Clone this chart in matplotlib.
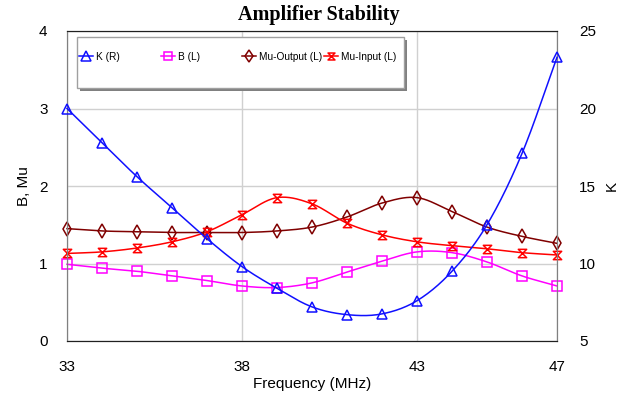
import numpy as np
import matplotlib
matplotlib.use("Agg")
import matplotlib.pyplot as plt
from matplotlib.path import Path
from matplotlib.lines import Line2D
from matplotlib.patches import Rectangle

freq = [33, 34, 35, 36, 37, 38, 39, 40, 41, 42, 43, 44, 45, 46, 47]
k_vals = [20.0, 17.8, 15.6, 13.6, 11.6, 9.8, 8.4, 7.2, 6.7, 6.75, 7.6, 9.5, 12.5, 17.1, 23.3]
b_vals = [0.99, 0.94, 0.90, 0.84, 0.78, 0.71, 0.69, 0.75, 0.89, 1.03, 1.15, 1.14, 1.02, 0.84, 0.71]
mu_out = [1.45, 1.42, 1.41, 1.40, 1.40, 1.40, 1.42, 1.47, 1.60, 1.78, 1.85, 1.67, 1.47, 1.35, 1.26]
mu_in = [1.13, 1.15, 1.20, 1.28, 1.41, 1.63, 1.85, 1.77, 1.52, 1.37, 1.28, 1.23, 1.19, 1.14, 1.11]
labels = ["K (R)", "B (L)", "Mu-Output (L)", "Mu-Input (L)"]
x_ticks = [33, 38, 43, 47]
left_ticks = [0, 1, 2, 3, 4]
right_ticks = [5, 10, 15, 20, 25]

plt.rcParams['font.family'] = ['Liberation Sans', 'DejaVu Sans']

hourglass = Path([(-1, 1), (1, 1), (-1, -1), (1, -1), (-1, 1)],
                 [Path.MOVETO, Path.LINETO, Path.LINETO, Path.LINETO, Path.CLOSEPOLY])


def smooth(x, y, n=20):
    # Catmull-Rom rendering of the line through the data points
    x = np.asarray(x, float); y = np.asarray(y, float)
    px = np.concatenate([[2 * x[0] - x[1]], x, [2 * x[-1] - x[-2]]])
    py = np.concatenate([[2 * y[0] - y[1]], y, [2 * y[-1] - y[-2]]])
    xs, ys = [], []
    t = np.linspace(0, 1, n, endpoint=False)
    for i in range(1, len(px) - 2):
        for p, out in ((px, xs), (py, ys)):
            p0, p1, p2, p3 = p[i - 1], p[i], p[i + 1], p[i + 2]
            out.extend(0.5 * ((2 * p1) + (-p0 + p2) * t + (2 * p0 - 5 * p1 + 4 * p2 - p3) * t ** 2
                              + (-p0 + 3 * p1 - 3 * p2 + p3) * t ** 3))
    xs.append(x[-1]); ys.append(y[-1])
    return np.array(xs), np.array(ys)


fig = plt.figure(figsize=(6.37, 3.96), dpi=100)
ax = fig.add_axes([67 / 637, 1 - 341 / 396, 490 / 637, 310 / 396])
ax2 = ax.twinx()

ax.set_xlim(33, 47)
ax.set_ylim(0, 4)
ax2.set_ylim(5, 25)
ax.set_xticks(x_ticks)
ax.set_yticks(left_ticks)
ax2.set_yticks(right_ticks)
ax.grid(True, color='#d0d0d0', linewidth=1)
ax.set_axisbelow(True)

series = [
    (ax2, k_vals, '#1010ff', '^', 7.5),
    (ax, b_vals, '#ff00ff', 's', 7),
    (ax, mu_out, '#800000', 'd', 7),
    (ax, mu_in, '#ff0000', hourglass, 6),
]
handles = []
for (a, vals, col, mk, ms), lab in zip(series, labels):
    sx, sy = smooth(freq, vals)
    a.plot(sx, sy, color=col, linewidth=1.1, clip_on=False, zorder=3)
    a.plot(freq, vals, linestyle='none', marker=mk, markersize=ms, markerfacecolor='none',
           markeredgecolor=col, markeredgewidth=1.1, clip_on=False, zorder=4)
    handles.append(Line2D([], [], color=col, linewidth=1.1, marker=mk, markersize=ms - 1,
                          markerfacecolor='none', markeredgecolor=col, markeredgewidth=1.1))

for a in (ax, ax2):
    a.tick_params(length=0, labelsize=11, pad=14)
    a.spines['left'].set_color('#808080')
    a.spines['right'].set_color('#808080')
    a.spines['top'].set_color('#202020')
    a.spines['bottom'].set_color('#202020')
ax.tick_params(axis='x', pad=14)
ax2.tick_params(axis='y', pad=16)

ax.set_xlabel("Frequency (MHz)", fontsize=11, labelpad=2)
ax.set_ylabel("B, Mu", fontsize=11, labelpad=6)
ax2.set_ylabel("K", fontsize=11, labelpad=6)

fig.text(0.5, 1 - 15 / 396, "Amplifier Stability", ha='center', va='center',
         fontsize=14.5, fontweight='bold', family=['Liberation Serif', 'DejaVu Serif'])

# legend box with shadow
fig.patches.append(Rectangle((80 / 637, 1 - 91 / 396), 327 / 637, 51 / 396, transform=fig.transFigure,
                             facecolor='#808080', edgecolor='none', zorder=5))
fig.patches.append(Rectangle((77 / 637, 1 - 88 / 396), 327 / 637, 51 / 396, transform=fig.transFigure,
                             facecolor='white', edgecolor='#a0a0a0', linewidth=1, zorder=6))
xpos = [79, 161, 242, 324]
for h, lab, xp in zip(handles, labels, xpos):
    lg = fig.legend([h], [lab], loc='center left', bbox_to_anchor=(xp / 637, 1 - 57 / 396),
                    frameon=False, fontsize=7.3, handlelength=1.4, handletextpad=0.25,
                    borderaxespad=0, borderpad=0)
    lg.set_zorder(7)

fig.savefig("out.png", dpi=100)
